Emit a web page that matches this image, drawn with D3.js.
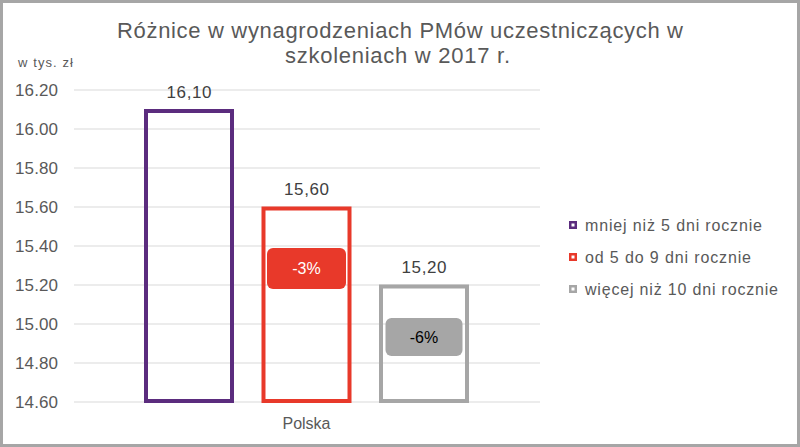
<!DOCTYPE html>
<html>
<head>
<meta charset="utf-8">
<script src="https://cdn.jsdelivr.net/npm/d3@7"></script>
<style>
  body { margin: 0; background: #fff; }
  svg { display: block; font-family: "Liberation Sans", Arial, sans-serif; }
</style>
</head>
<body>
<div id="wykres"></div>
<script>
const szerokosc = 800;
const wysokosc = 447;

// dane
const kategorie = ["mniej niż 5 dni rocznie", "od 5 do 9 dni rocznie", "więcej niż 10 dni rocznie"];
const wartosci = [16.10, 15.60, 15.20];
const etykiety = ["16,10", "15,60", "15,20"];
const roznice = [null, "-3%", "-6%"];
const kolory = ["#5B2C7E", "#E8392A", "#A6A6A6"];
const ticki = [14.60, 14.80, 15.00, 15.20, 15.40, 15.60, 15.80, 16.00, 16.20];

const svg = d3.select("#wykres")
  .append("svg")
  .attr("width", szerokosc)
  .attr("height", wysokosc);

// ramka
svg.append("rect")
  .attr("x", 1.5).attr("y", 1.5)
  .attr("width", szerokosc - 3).attr("height", wysokosc - 3)
  .attr("fill", "#fff")
  .attr("stroke", "#A6A6A6")
  .attr("stroke-width", 3);

const y = d3.scaleLinear().domain([14.6, 16.2]).range([402, 90]);
const x = d3.scaleBand().domain(kategorie).range([144, 469]).paddingInner(0.234).paddingOuter(0);

// siatka
svg.append("g")
  .selectAll("line")
  .data(ticki)
  .enter()
  .append("line")
  .attr("x1", 74).attr("x2", 540)
  .attr("y1", d => y(d)).attr("y2", d => y(d))
  .attr("stroke", "#D9D9D9")
  .attr("stroke-width", 1);

// os Y
const osY = d3.axisLeft(y).tickValues(ticki).tickFormat(d3.format(".2f")).tickSize(0).tickPadding(0);
svg.append("g")
  .attr("transform", "translate(58,0)")
  .call(osY)
  .call(g => g.select(".domain").remove())
  .selectAll("text")
  .attr("fill", "#595959")
  .attr("textLength", 43)
  .attr("lengthAdjust", "spacing")
  .style("font-size", "17px")
  .style("font-family", "'Liberation Sans', Arial, sans-serif");

svg.append("text")
  .attr("x", 18).attr("y", 67)
  .attr("fill", "#595959")
  .attr("textLength", 55)
  .attr("lengthAdjust", "spacing")
  .style("font-size", "13px")
  .text("w tys. zł");

// tytul
const tytul = svg.append("g")
  .attr("fill", "#595959")
  .style("font-size", "22px");
tytul.append("text").attr("x", 117).attr("y", 38)
  .attr("textLength", 566).attr("lengthAdjust", "spacing")
  .text("Różnice w wynagrodzeniach PMów uczestniczących w");
tytul.append("text").attr("x", 285).attr("y", 63)
  .attr("textLength", 225).attr("lengthAdjust", "spacing")
  .text("szkoleniach w 2017 r.");

// slupki
const sw = 4;
svg.append("g")
  .selectAll("rect")
  .data(kategorie)
  .enter()
  .append("rect")
  .attr("x", d => x(d) + sw / 2)
  .attr("y", (d, i) => y(wartosci[i]) + 1.5)
  .attr("width", x.bandwidth() - sw)
  .attr("height", (d, i) => y(14.6) - 1 - y(wartosci[i]) - 1.5)
  .attr("fill", "none")
  .attr("stroke", (d, i) => kolory[i])
  .attr("stroke-width", sw);

// etykiety wartosci
svg.append("g")
  .selectAll("text")
  .data(kategorie)
  .enter()
  .append("text")
  .attr("x", d => x(d) + x.bandwidth() / 2 - 22.5)
  .attr("y", (d, i) => y(wartosci[i]) - 12)
  .attr("fill", "#404040")
  .attr("textLength", 45)
  .attr("lengthAdjust", "spacing")
  .style("font-size", "17px")
  .text((d, i) => etykiety[i]);

// znaczniki roznic
const znaczniki = [
  { i: 1, srodek: 15.285, szer: 79, wys: 41, tekst: "#fff" },
  { i: 2, srodek: 14.933, szer: 77, wys: 38, tekst: "#000" }
];
znaczniki.forEach(z => {
  const cx = x(kategorie[z.i]) + x.bandwidth() / 2;
  const cy = y(z.srodek);
  svg.append("rect")
    .attr("x", cx - z.szer / 2).attr("y", cy - z.wys / 2)
    .attr("width", z.szer).attr("height", z.wys)
    .attr("rx", 6)
    .attr("fill", kolory[z.i]);
  svg.append("text")
    .attr("x", cx).attr("y", cy + 6)
    .attr("text-anchor", "middle")
    .attr("fill", z.tekst)
    .style("font-size", "16px")
    .text(roznice[z.i]);
});

// os X
svg.append("text")
  .attr("x", x(kategorie[1]) + x.bandwidth() / 2)
  .attr("y", 429)
  .attr("text-anchor", "middle")
  .attr("fill", "#595959")
  .style("font-size", "16px")
  .text("Polska");

// legenda
const dlugosci = [177, 166, 193];
const legenda = svg.append("g")
  .selectAll("g")
  .data(kategorie)
  .enter()
  .append("g")
  .attr("transform", (d, i) => `translate(569,${225 + i * 32})`);
legenda.append("rect")
  .attr("x", 1.25).attr("y", -2.75)
  .attr("width", 5.5).attr("height", 5.5)
  .attr("fill", "#fff")
  .attr("stroke", (d, i) => kolory[i])
  .attr("stroke-width", 2.5);
legenda.append("text")
  .attr("x", 16).attr("y", 6)
  .attr("fill", "#595959")
  .attr("textLength", (d, i) => dlugosci[i])
  .attr("lengthAdjust", "spacing")
  .style("font-size", "16px")
  .text(d => d);
</script>
</body>
</html>
